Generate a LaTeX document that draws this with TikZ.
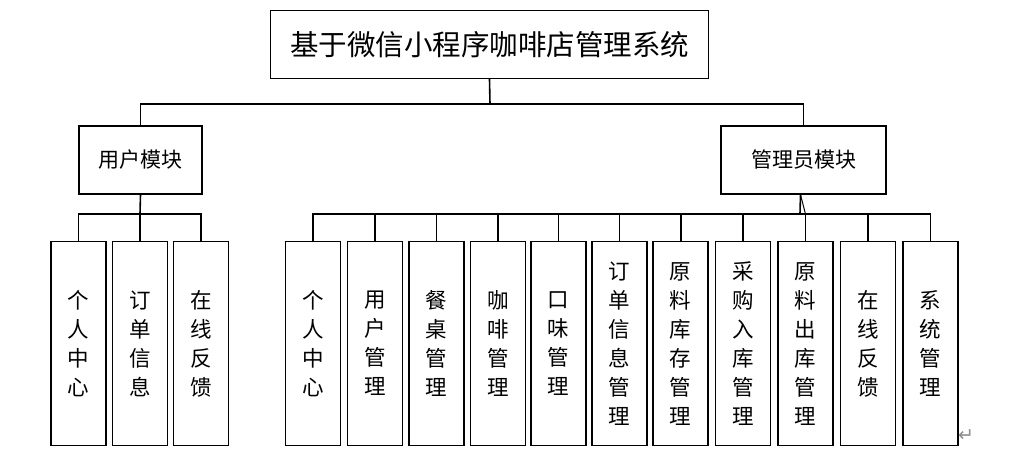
\documentclass[tikz,border=0pt]{standalone}
\usepackage{fontspec}
\newfontfamily\cjk{Noto Sans CJK SC}
\newfontfamily\dejavu{DejaVu Sans}
\begin{document}
\begin{tikzpicture}[x=1pt,y=-1pt,
  line width=1.5pt,
  box/.style={draw, rectangle, inner sep=0pt, line width=1.5pt},
  titlebox/.style={box, minimum width=438pt, minimum height=68pt, font=\cjk\fontsize{28.5}{30}\selectfont},
  modbox/.style={box, minimum height=68pt, font=\cjk\fontsize{21}{24}\selectfont},
  leaf/.style={box, minimum width=55pt, minimum height=204pt, align=center, font=\cjk\fontsize{21.5}{29}\selectfont},
  conn/.style={line width=1.6pt}]
\useasboundingbox (0,0) rectangle (1010,458);
\node[titlebox] (t) at (489.5,44.3) {基于微信小程序咖啡店管理系统};
\node[modbox, minimum width=123pt] (u) at (140.5,160) {用户模块};
\node[modbox, minimum width=165pt] (a) at (803.5,160) {管理员模块};
% user leaves
\node[leaf] (u1) at (78.5,343.7) {个\\人\\中\\心};
\node[leaf] (u2) at (140,343.7) {订\\单\\信\\息};
\node[leaf] (u3) at (201.2,343.7) {在\\线\\反\\馈};
% admin leaves
\node[leaf] (c1) at (313.1,343.7) {个\\人\\中\\心};
\node[leaf] (c2) at (374.8,343.7) {用\\户\\管\\理};
\node[leaf] (c3) at (436.5,343.7) {餐\\桌\\管\\理};
\node[leaf] (c4) at (498.2,343.7) {咖\\啡\\管\\理};
\node[leaf] (c5) at (558.4,343.7) {口\\味\\管\\理};
\node[leaf] (c6) at (619.4,343.7) {订\\单\\信\\息\\管\\理};
\node[leaf] (c7) at (680.7,343.7) {原\\料\\库\\存\\管\\理};
\node[leaf] (c8) at (743.1,343.7) {采\\购\\入\\库\\管\\理};
\node[leaf] (c9) at (805.4,343.7) {原\\料\\出\\库\\管\\理};
\node[leaf] (c10) at (867.8,343.7) {在\\线\\反\\馈};
\node[leaf] (c11) at (930.4,343.7) {系\\统\\管\\理};
% bars
\coordinate (bt) at (490,104);
\coordinate (bu) at (140,213.7);
\coordinate (ba) at (800,213.7);
% top level
\draw[conn] (t.south) -- (bt);
\draw[conn] (u.north) |- (bt) -| (a.north);
% user module
\draw[conn] (u.south) -- (bu);
\draw[conn] (u1.north) |- (bu) -| (u3.north);
\draw[conn] (u2.north) -- (bu);
% admin module
\draw[conn] ([xshift=-3pt]a.south) -- (ba);
\draw[line width=1pt] ([xshift=-3pt]a.south) -- (c9.north |- ba);
\draw[conn] (c1.north) |- (ba) -| (c11.north);
\foreach \i in {2,...,10} {\draw[conn] (c\i.north) -- (c\i.north |- ba);}
\node[font=\dejavu\fontsize{19}{19}\selectfont, text=black!45, inner sep=0pt] (pm) at (966,436) {↵};
\end{tikzpicture}
\end{document}
